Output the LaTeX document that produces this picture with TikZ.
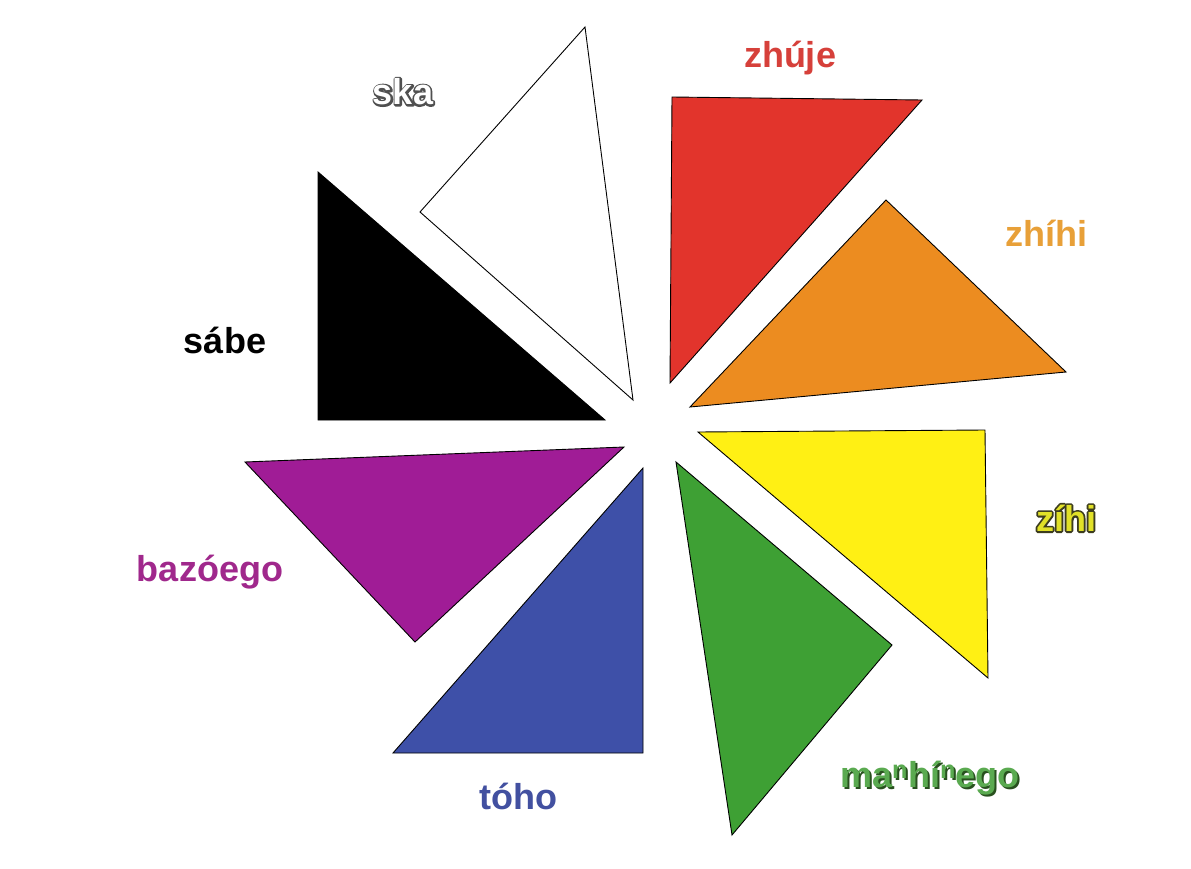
\documentclass[tikz,border=0pt]{standalone}
\usepackage{fontspec}
\setmainfont{Liberation Sans}
\usetikzlibrary{calc}
\definecolor{cred}{RGB}{226,52,44}
\definecolor{corange}{RGB}{236,140,32}
\definecolor{cyellow}{RGB}{255,240,20}
\definecolor{cgreen}{RGB}{62,160,52}
\definecolor{cblue}{RGB}{62,80,168}
\definecolor{cpurple}{RGB}{160,28,150}
\definecolor{tred}{RGB}{214,64,58}
\definecolor{torange}{RGB}{232,160,56}
\definecolor{tyellow}{RGB}{225,225,40}
\definecolor{tgreen}{RGB}{90,170,80}
\definecolor{tblue}{RGB}{66,80,160}
\definecolor{tpurple}{RGB}{160,40,140}
\definecolor{tdark}{RGB}{60,60,30}
\definecolor{tgrey}{RGB}{80,80,80}
\definecolor{tshadow}{RGB}{40,80,30}
\tikzset{
  tri/.style={draw=black, line width=0.9pt, line join=miter},
  lab/.style={font=\fontsize{36}{40}\bfseries\selectfont, inner sep=0pt, anchor=center}
}
\newcommand{\strokedtext}[1]{\special{pdf:literal direct q 3.6 w 1 j 2 Tr}#1\special{pdf:literal direct Q}}
\begin{document}
\begin{tikzpicture}[x=1pt,y=-1pt]
\useasboundingbox (0,0) rectangle (1191,869);
\fill[white] (0,0) rectangle (1191,869);
% triangles
\draw[tri, fill=white] (585,27) -- (420,212) -- (633,400) -- cycle;
\draw[tri, fill=cred] (672,97) -- (922,100) -- (670,383) -- cycle;
\draw[tri, fill=corange] (886,200) -- (1066,372) -- (690,407) -- cycle;
\draw[tri, fill=cyellow] (698,432) -- (985,430) -- (988,678) -- cycle;
\draw[tri, fill=cgreen] (676,462) -- (892,645) -- (732,835) -- cycle;
\draw[tri, fill=cblue] (643,468) -- (643,753) -- (393,753) -- cycle;
\draw[tri, fill=cpurple] (245,462) -- (624,447) -- (415,642) -- cycle;
\draw[tri, fill=black] (318,172) -- (318,420) -- (605,420) -- cycle;
% labels
\node[lab, text=tgrey] (skaoutline) at (403,92) {\strokedtext{ska}};
\node[lab, text=white] (ska) at (403,92) {ska};
\node[lab, text=tred] (zhuje) at (790,58) {zhúje};
\node[lab, text=torange] (zhihi) at (1046,233) {zhíhi};
\node[lab, text=tdark] (zihioutline) at (1066,518) {\strokedtext{zíhi}};
\node[lab, text=tyellow] (zihi) at (1066,518) {zíhi};
\node[lab, text=tshadow] (mshadow) at (932,780) {ma\textsuperscript{n}hí\textsuperscript{n}ego};
\node[lab, text=tgreen] (manhinego) at (930,778) {ma\textsuperscript{n}hí\textsuperscript{n}ego};
\node[lab, text=tblue] (toho) at (518,796) {tóho};
\node[lab, text=tpurple] (bazoego) at (210,572) {bazóego};
\node[lab, text=black] (sabe) at (225,340) {sábe};
\end{tikzpicture}
\end{document}
